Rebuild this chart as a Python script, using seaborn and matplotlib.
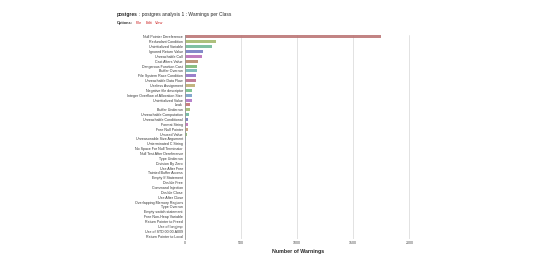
import matplotlib
matplotlib.use("Agg")
import matplotlib.pyplot as plt
import seaborn as sns
import pandas as pd

categories = [
    "Null Pointer Dereference", "Redundant Condition", "Uninitialized Variable",
    "Ignored Return Value", "Unreachable Call", "Cast Alters Value",
    "Dangerous Function Cast", "Buffer Overrun", "File System Race Condition",
    "Unreachable Data Flow", "Useless Assignment", "Negative file descriptor",
    "Integer Overflow of Allocation Size", "Uninitialized Value", "Leak",
    "Buffer Underrun", "Unreachable Computation", "Unreachable Conditional",
    "Format String", "Free Null Pointer", "Unused Value",
    "Unreasonable Size Argument", "Unterminated C String",
    "No Space For Null Terminator", "Null Test After Dereference",
    "Type Underrun", "Division By Zero", "Use After Free",
    "Tainted Buffer Access", "Empty If Statement", "Double Free",
    "Command Injection", "Double Close", "Use After Close",
    "Overlapping Memory Regions", "Type Overrun", "Empty switch statement",
    "Free Non-Heap Variable", "Return Pointer to Freed", "Use of longjmp",
    "Use of STD.00.00.A009", "Return Pointer to Local",
]
warnings = [
    1750, 272, 237, 157, 148, 116, 111, 105, 100, 96, 92, 66, 63, 62, 48, 47,
    36, 30, 27, 25, 18, 12, 9, 8, 7, 6, 5, 5, 4, 4, 3, 3, 3, 2, 2, 2, 2, 1, 1,
    1, 1, 1,
]
bar_colors = [
    "#c86b6b", "#a9c663", "#66c59a", "#6a73d0", "#c463c4", "#c48a62",
    "#74c26c", "#67c2c4", "#8a64d4", "#c8648a", "#c9b466", "#67cc82",
    "#6a9fd4", "#b367d4", "#d06868", "#a3c764", "#62c4a4", "#6a74c9",
    "#cf66c4", "#d39a6a", "#86c76a", "#64c9d0", "#7f6ad0", "#d06aa0",
    "#c4c66a", "#6ad08a", "#6aa0d0", "#a06ad0", "#d07070", "#b0d070",
    "#70d0b0", "#7080d0", "#d070d0", "#d0a070", "#80d070", "#70d0d0",
    "#9070d0", "#d07090", "#d0c070", "#70d080", "#70a0d0", "#c070d0",
]
x_ticks = [0, 500, 1000, 1500, 2000]

df = pd.DataFrame({"cls": categories, "n": warnings})

sns.set_style("white")
plt.rcParams["font.family"] = ["Liberation Sans", "DejaVu Sans"]

fig = plt.figure(figsize=(5.36, 2.62), dpi=100)
ax = fig.add_axes([185 / 536, 1 - 238.5 / 262, 226 / 536, (238.5 - 34.5) / 262])

sns.barplot(data=df, x="n", y="cls", hue="cls", palette=bar_colors,
            legend=False, orient="h", width=0.62, ax=ax, alpha=0.9,
            linewidth=0)

ax.set_xlim(0, 2015)
ax.set_ylim(len(categories) - 0.5, -0.5)
ax.set_xticks(x_ticks)
ax.set_xticklabels([str(t) for t in x_ticks], fontsize=2.6, color="#444444")
ax.tick_params(axis="y", labelsize=2.6, length=0, pad=1.5, labelcolor="#333333")
ax.tick_params(axis="x", length=0, pad=2)
ax.set_ylabel("")
ax.set_xlabel("Number of Warnings", fontsize=3.8, fontweight="bold", labelpad=3)
ax.grid(axis="x", color="#dddddd", linewidth=0.6)
ax.set_axisbelow(True)
for s in ["top", "right", "bottom"]:
    ax.spines[s].set_visible(False)
ax.spines["left"].set_color("#999999")
ax.spines["left"].set_linewidth(0.6)


def text_after(prev, s, gap=1.5, **kw):
    fig.canvas.draw()
    bb = prev.get_window_extent(renderer=fig.canvas.get_renderer())
    x = (bb.x1 + gap) / fig.bbox.width
    return fig.text(x, prev.get_position()[1], s, va="center", ha="left", **kw)


t1 = fig.text(117 / 536, 1 - 14.5 / 262, "postgres", fontsize=3.5,
              fontweight="bold", va="center", ha="left")
text_after(t1, ": postgres analysis 1 : Warnings per Class", fontsize=3.5)

o = fig.text(117 / 536, 1 - 23.3 / 262, "Options:", fontsize=2.8,
             fontweight="bold", va="center", ha="left", color="#333333")
o2 = text_after(o, "File", gap=3, fontsize=2.8, color="#cc2222")
o3 = text_after(o2, "Edit", gap=3, fontsize=2.8, color="#cc2222")
text_after(o3, "View", gap=3, fontsize=2.8, color="#cc2222")

fig.savefig("out.png", dpi=100)
